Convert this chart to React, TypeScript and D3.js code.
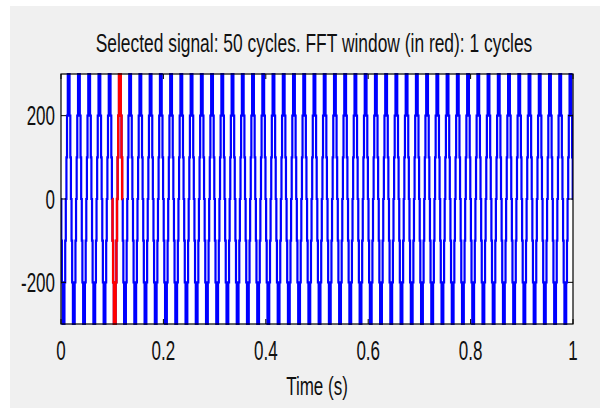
import React, { useEffect, useRef } from 'react';
import * as d3 from 'd3';

// Signal description
const totalCycles = 50;
const period = 0.02; // 50 Hz
// one period of the staircase: switching angles (deg) and the level that starts there
const switchAngles = [0, 11, 32, 59, 121, 148, 169, 191, 212, 239, 301, 328, 349];
const stepLevels = [0, -100, -200, -300, -200, -100, 0, 100, 200, 300, 200, 100, 0];
// FFT window shown in red
const fftStart = 0.1;
const fftCycles = 1;

const xTicks = [0, 0.2, 0.4, 0.6, 0.8, 1];
const yTicks = [-200, 0, 200];
const titleText = 'Selected signal: 50 cycles. FFT window (in red): 1 cycles';
const xLabel = 'Time (s)';

const App = () => {
    const svgRef = useRef<SVGSVGElement>(null);

    useEffect(() => {
        const width = 600;
        const height = 408;
        const m = { left: 61, right: 27, top: 74, bottom: 84 };
        const font = '"Liberation Sans", Arial, sans-serif';

        const svg = d3.select(svgRef.current);
        svg.selectAll('*').remove();
        svg.attr('width', width).attr('height', height);

        // figure background
        svg.append('rect').attr('width', width).attr('height', height).attr('fill', '#ffffff');
        svg.append('rect').attr('x', 10).attr('y', 6)
            .attr('width', width - 10).attr('height', height - 6).attr('fill', '#f0f0f0');

        const x = d3.scaleLinear().domain([0, 1]).range([m.left, width - m.right]);
        const y = d3.scaleLinear().domain([-300, 300]).range([height - m.bottom, m.top]);

        svg.append('rect')
            .attr('x', x(0)).attr('y', y(300))
            .attr('width', x(1) - x(0)).attr('height', y(-300) - y(300))
            .attr('fill', '#ffffff');

        svg.append('clipPath').attr('id', 'plotClip')
            .append('rect')
            .attr('x', x(0)).attr('y', y(300) - 1)
            .attr('width', x(1) - x(0)).attr('height', y(-300) - y(300) + 2);

        // build step points for a range of cycles
        const buildPoints = (firstCycle: number, nCycles: number) => {
            const pts: [number, number][] = [];
            for (let c = firstCycle; c < firstCycle + nCycles; c++) {
                switchAngles.forEach((a, i) => {
                    pts.push([(c + a / 360) * period, stepLevels[i]]);
                });
            }
            pts.push([(firstCycle + nCycles) * period, stepLevels[0]]);
            return pts;
        };

        const line = d3.line<[number, number]>()
            .x(d => x(d[0]))
            .y(d => y(d[1]))
            .curve(d3.curveStepAfter);

        const plot = svg.append('g').attr('clip-path', 'url(#plotClip)');

        plot.append('path')
            .attr('d', line(buildPoints(0, totalCycles)))
            .attr('fill', 'none')
            .attr('stroke', '#0000ff')
            .attr('stroke-width', 2.2);

        plot.append('path')
            .attr('d', line(buildPoints(Math.round(fftStart / period), fftCycles)))
            .attr('fill', 'none')
            .attr('stroke', '#ff0000')
            .attr('stroke-width', 2.4);

        // axes box
        svg.append('rect')
            .attr('x', x(0)).attr('y', y(300))
            .attr('width', x(1) - x(0)).attr('height', y(-300) - y(300))
            .attr('fill', 'none').attr('stroke', '#000').attr('stroke-width', 1.2);

        const tickLen = 5;
        const ticks = svg.append('g').attr('stroke', '#000').attr('stroke-width', 1);
        xTicks.forEach(t => {
            ticks.append('line').attr('x1', x(t)).attr('x2', x(t))
                .attr('y1', y(-300)).attr('y2', y(-300) - tickLen);
            ticks.append('line').attr('x1', x(t)).attr('x2', x(t))
                .attr('y1', y(300)).attr('y2', y(300) + tickLen);
        });
        yTicks.forEach(t => {
            ticks.append('line').attr('x1', x(0)).attr('x2', x(0) + tickLen)
                .attr('y1', y(t)).attr('y2', y(t));
            ticks.append('line').attr('x1', x(1)).attr('x2', x(1) - tickLen)
                .attr('y1', y(t)).attr('y2', y(t));
        });

        // stretched text helper, MATLAB-like narrow glyphs
        const label = (tx: number, ty: number, s: string, anchor: string, size: number, stretch: number) => {
            svg.append('text')
                .attr('transform', `translate(${tx},${ty}) scale(1,${stretch})`)
                .attr('text-anchor', anchor)
                .attr('font-family', font)
                .attr('font-size', size)
                .attr('fill', '#111')
                .text(s);
        };

        xTicks.forEach(t => label(x(t), 360, d3.format('')(t), 'middle', 17, 1.6));
        yTicks.forEach(t => label(x(0) - 6, y(t) + 9.5, String(t), 'end', 17, 1.6));
        label((x(0) + x(1)) / 2 - 3, 52, titleText, 'middle', 17.4, 1.5);
        label((x(0) + x(1)) / 2, 395, xLabel, 'middle', 17, 1.55);
    }, []);

    return <svg ref={svgRef} style={{ position: 'absolute', left: 0, top: 0 }}></svg>;
};

export default App;
